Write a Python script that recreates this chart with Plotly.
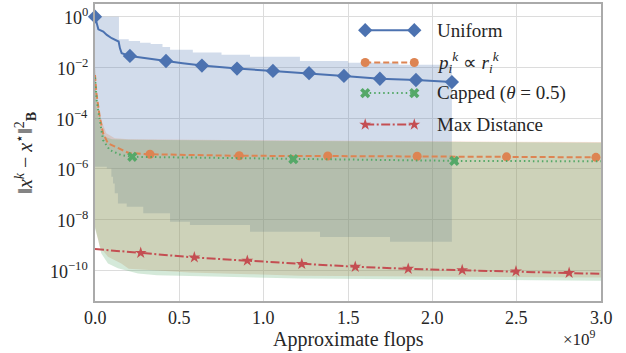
import plotly.graph_objects as go

FONT = "Times New Roman"
BLUE, ORANGE, GREEN, RED = "#4C72B0", "#DD8452", "#55A868", "#C44E52"
TXT = "#262626"

# x in units of 1e9 flops, y values given as log10
# --- Uniform ---
uni_x = [0.0, 0.02, 0.049, 0.07, 0.099, 0.117, 0.129, 0.140, 0.148, 0.158, 0.207, 0.30, 0.421, 0.52, 0.634, 0.842, 1.055, 1.269, 1.476, 1.689, 1.903, 2.116]
uni_y = [0.0, -0.50, -0.59, -0.72, -0.85, -0.90, -0.92, -0.98, -1.25, -1.44, -1.55, -1.64, -1.75, -1.84, -1.93, -2.05, -2.14, -2.23, -2.34, -2.45, -2.50, -2.58]
uni_mx = [0.0, 0.207, 0.421, 0.634, 0.842, 1.055, 1.269, 1.476, 1.689, 1.903, 2.116]
uni_my = [0.0, -1.55, -1.75, -1.93, -2.05, -2.14, -2.23, -2.34, -2.45, -2.50, -2.58]
uni_up_x = [0.0, 0.142, 0.2, 0.267, 0.33, 0.40, 0.445, 0.58, 0.75, 0.919, 1.215, 1.5, 1.8, 2.116]
uni_up_y = [0.0, -0.89, -0.96, -1.03, -1.08, -1.20, -1.31, -1.41, -1.50, -1.58, -1.75, -1.82, -1.90, -1.97]
uni_lo_x = [0.0, 0.07, 0.097, 0.107, 0.117, 0.136, 0.188, 0.286, 0.445, 0.563, 0.919, 1.334, 1.749, 2.116]
uni_lo_y = [-5.92, -5.99, -6.32, -6.58, -6.97, -7.37, -7.50, -7.76, -8.09, -8.22, -8.49, -8.69, -8.88, -9.01]

# --- p_i^k proportional to r_i^k ---
prop_x = [0.0, 0.008, 0.028, 0.048, 0.077, 0.137, 0.2, 0.326, 0.855, 1.38, 1.91, 2.44, 2.97, 3.0]
prop_y = [-2.3, -3.0, -3.95, -4.6, -5.0, -5.2, -5.38, -5.43, -5.49, -5.50, -5.51, -5.53, -5.55, -5.56]
prop_mx = [0.326, 0.855, 1.38, 1.91, 2.44, 2.97]
prop_my = [-5.43, -5.49, -5.50, -5.51, -5.53, -5.55]
prop_up_x = [0.0, 0.01, 0.037, 0.067, 0.117, 0.2, 1.5, 3.0]
prop_up_y = [-2.0, -3.29, -4.08, -4.6, -4.8, -4.84, -4.9, -4.95]
prop_lo_x = [0.0, 0.028, 0.077, 0.156, 0.2, 0.56, 0.92, 1.215, 3.0]
prop_lo_y = [-8.29, -9.08, -9.47, -9.74, -9.95, -10.1, -10.16, -10.22, -10.29]

# --- Capped (theta = 0.5) ---
cap_x = [0.0, 0.01, 0.028, 0.048, 0.087, 0.154, 0.221, 1.176, 2.13, 3.0]
cap_y = [-2.4, -3.3, -4.08, -4.87, -5.26, -5.46, -5.53, -5.62, -5.69, -5.71]
cap_mx = [0.221, 1.176, 2.13]
cap_my = [-5.53, -5.62, -5.69]
cap_up_x = [0.0, 0.01, 0.03, 0.06, 0.1, 0.2, 1.5, 3.0]
cap_up_y = [-2.0, -3.6, -4.35, -4.75, -4.84, -4.86, -4.92, -4.98]
cap_lo_x = [0.0, 0.02, 0.037, 0.077, 0.136, 0.255, 0.368, 0.919, 1.215, 3.0]
cap_lo_y = [-8.35, -8.82, -9.34, -9.74, -9.93, -10.13, -10.2, -10.29, -10.33, -10.42]

# --- Max Distance ---
max_x = [0.0, 0.271, 0.589, 0.903, 1.226, 1.543, 1.857, 2.177, 2.496, 2.811, 3.0]
max_y = [-9.17, -9.32, -9.50, -9.63, -9.76, -9.87, -9.95, -10.0, -10.05, -10.11, -10.15]
max_mx = [0.271, 0.589, 0.903, 1.226, 1.543, 1.857, 2.177, 2.496, 2.811]
max_my = [-9.32, -9.50, -9.63, -9.76, -9.87, -9.95, -10.0, -10.05, -10.11]

labels = ["Uniform",
          "<i>p</i><sub><i>i</i></sub><sup><i>k</i></sup> ∝ <i>r</i><sub><i>i</i></sub><sup><i>k</i></sup>",
          "Capped (<i>θ</i> = 0.5)",
          "Max Distance"]
y_tick_exp = [0, -2, -4, -6, -8, -10]
x_ticks = [0.0, 0.5, 1.0, 1.5, 2.0, 2.5, 3.0]


def p(v):
    return [10 ** e for e in v]


def rgba(h, a):
    h = h.lstrip("#")
    return "rgba(%d,%d,%d,%s)" % (int(h[0:2], 16), int(h[2:4], 16), int(h[4:6], 16), a)


fig = go.Figure()

bands = [
    (BLUE, uni_lo_x, uni_lo_y, uni_up_x, uni_up_y, "hv"),
    (ORANGE, prop_lo_x, prop_lo_y, prop_up_x, prop_up_y, "linear"),
    (GREEN, cap_lo_x, cap_lo_y, cap_up_x, cap_up_y, "linear"),
]
for col, lx, ly, ux, uy, shp in bands:
    fig.add_trace(go.Scatter(x=lx, y=p(ly), mode="lines", line=dict(width=0, shape=shp),
                             showlegend=False, hoverinfo="skip"))
    fig.add_trace(go.Scatter(x=ux, y=p(uy), mode="lines", line=dict(width=0, shape=shp),
                             fill="tonexty", fillcolor=rgba(col, 0.25),
                             showlegend=False, hoverinfo="skip"))

series = [
    (BLUE, uni_x, uni_y, uni_mx, uni_my, "solid", "diamond", 11),
    (ORANGE, prop_x, prop_y, prop_mx, prop_my, "6px,3px", "circle", 9),
    (GREEN, cap_x, cap_y, cap_mx, cap_my, "1.5px,3px", "x", 9),
    (RED, max_x, max_y, max_mx, max_my, "9px,2.5px,2px,2.5px", "star", 9),
]
for col, lx, ly, mx, my, dash, sym, sz in series:
    fig.add_trace(go.Scatter(x=lx, y=p(ly), mode="lines",
                             line=dict(color=col, width=2, dash=dash),
                             showlegend=False))
    fig.add_trace(go.Scatter(x=mx, y=p(my), mode="markers",
                             marker=dict(color=col, symbol=sym, size=sz, line=dict(width=0)),
                             showlegend=False, cliponaxis=False))

# custom legend (lines with markers at both ends), on an overlay axis in [0,1]
leg_y = [0.912, 0.803, 0.700, 0.594]
for (col, _, _, _, _, dash, sym, sz), ly, lab in zip(series, leg_y, labels):
    fig.add_trace(go.Scatter(x=[0.534, 0.631], y=[ly, ly], mode="lines+markers",
                             line=dict(color=col, width=2, dash=dash),
                             marker=dict(color=col, symbol=sym, size=sz, line=dict(width=0)),
                             xaxis="x2", yaxis="y2", showlegend=False, hoverinfo="skip"))
    fig.add_annotation(x=0.672, y=ly, xref="x2", yref="y2", text=lab, showarrow=False,
                       xanchor="left", yanchor="middle",
                       font=dict(family=FONT, size=19, color=TXT))

# tick labels (serif) placed on the axes' own scales
for v in x_ticks:
    fig.add_annotation(x=v, y=0, xref="x", yref="paper", text="%.1f" % v, showarrow=False,
                       xanchor="center", yanchor="top", yshift=-5,
                       font=dict(family=FONT, size=18, color=TXT))
for e in y_tick_exp:
    fig.add_annotation(x=0, y=e, xref="paper", yref="y",
                       text="10<sup>%s</sup>" % str(e).replace("-", "−"), showarrow=False,
                       xanchor="right", yanchor="middle", xshift=-5,
                       font=dict(family=FONT, size=18, color=TXT))

# axis titles
fig.add_annotation(x=0.5, y=-0.131, xref="paper", yref="paper", text="Approximate flops",
                   showarrow=False, xanchor="center", yanchor="middle",
                   font=dict(family=FONT, size=20, color=TXT))
fig.add_annotation(x=-0.138, y=0.5, xref="paper", yref="paper", textangle=-90,
                   text="‖<i>x</i><sup><i>k</i></sup> − <i>x</i><sup>⋆</sup>‖<sup>2</sup><sub><b>B</b></sub>",
                   showarrow=False, xanchor="center", yanchor="middle",
                   font=dict(family=FONT, size=20, color=TXT))
fig.add_annotation(x=0.995, y=-0.125, xref="paper", yref="paper", text="×10<sup>9</sup>",
                   showarrow=False, xanchor="right", yanchor="middle",
                   font=dict(family=FONT, size=17, color=TXT))

axis_common = dict(showgrid=True, gridcolor="#dcdcdc", gridwidth=1, showline=True,
                   linecolor="#aaaaaa", linewidth=1.5, mirror=True, ticks="", zeroline=False,
                   showticklabels=False, automargin=False)

fig.update_layout(
    template="none",
    width=626, height=353,
    margin=dict(l=95, r=25, t=4, b=52),
    paper_bgcolor="white", plot_bgcolor="white",
    font=dict(family=FONT, color=TXT),
    showlegend=False,
    xaxis=dict(range=[0, 3.0], tickvals=x_ticks, **axis_common),
    yaxis=dict(type="log", range=[-11.22, 0.5], tickvals=[10 ** e for e in y_tick_exp],
               **axis_common),
    xaxis2=dict(overlaying="x", range=[0, 1], visible=False),
    yaxis2=dict(overlaying="y", range=[0, 1], visible=False),
)

fig.write_html("out.html", config={"displayModeBar": False},
               post_script="document.body.style.margin='0';")
